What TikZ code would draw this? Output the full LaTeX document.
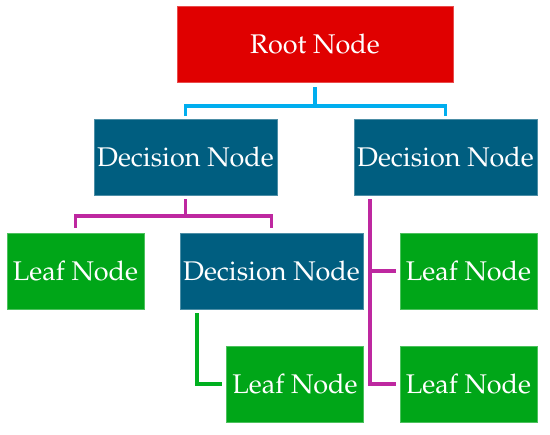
\documentclass[tikz,border=0pt]{standalone}
\usepackage[T1]{fontenc}
\usepackage{mathpazo}
\definecolor{rootred}{RGB}{224,0,0}
\definecolor{decblue}{RGB}{0,94,128}
\definecolor{leafgreen}{RGB}{0,166,24}
\definecolor{linecyan}{RGB}{0,174,239}
\definecolor{linemag}{RGB}{190,40,160}
\definecolor{linegreen}{RGB}{0,176,32}
\tikzset{
  box/.style={rectangle, minimum height=76pt, inner sep=0pt, text=white,
    font=\fontsize{27}{32}\selectfont, line width=0.8pt},
  rootbox/.style={box, fill=rootred, draw=rootred!70!white, minimum width=276pt},
  decbox/.style={box, fill=decblue, draw=decblue!70!white, minimum width=183pt},
  leafbox/.style={box, fill=leafgreen, draw=leafgreen!70!white, minimum width=137pt},
  cyanline/.style={draw=linecyan, line width=3.8pt},
  magline/.style={draw=linemag, line width=3.8pt},
  grnline/.style={draw=linegreen, line width=3.8pt},
}
\begin{document}
\begin{tikzpicture}[x=1pt,y=-1pt]
\useasboundingbox (0,0) rectangle (550,435);
\node[rootbox] (root) at (315,44) {Root Node};
\node[decbox] (decL) at (185.5,157) {Decision Node};
\node[decbox] (decR) at (445.5,157) {Decision Node};
\node[leafbox] (leaf1) at (75.5,271) {Leaf Node};
\node[decbox] (decM) at (271.5,271) {Decision Node};
\node[leafbox] (leafR1) at (468.5,271) {Leaf Node};
\node[leafbox] (leafM) at (295,384) {Leaf Node};
\node[leafbox] (leafR2) at (468.5,384) {Leaf Node};
% root -> decision nodes
\draw[cyanline] ([yshift=-5pt]root.south) -- ++(0,19) -| ([yshift=3pt]decL.north);
\draw[cyanline] ([yshift=-5pt]root.south) -- ++(0,19) -| ([yshift=3pt]decR.north);
% left decision -> leaf and decision
\draw[magline] ([yshift=-4pt]decL.south) -- ++(0,17) -| ([yshift=5pt]leaf1.north);
\draw[magline] ([yshift=-4pt]decL.south) -- ++(0,17) -| ([yshift=5pt]decM.north);
% right decision -> leaves
\coordinate (rtop) at ([xshift=16pt,yshift=-4pt]decR.south west);
\draw[magline] (rtop) |- ([xshift=-4pt]leafR2.west);
\draw[magline] (rtop |- leafR1.west) -- ([xshift=-4pt]leafR1.west);
% middle decision -> leaf
\coordinate (mtop) at ([xshift=17pt,yshift=-4pt]decM.south west);
\draw[grnline] (mtop) |- ([xshift=-4pt]leafM.west);
\end{tikzpicture}
\end{document}
